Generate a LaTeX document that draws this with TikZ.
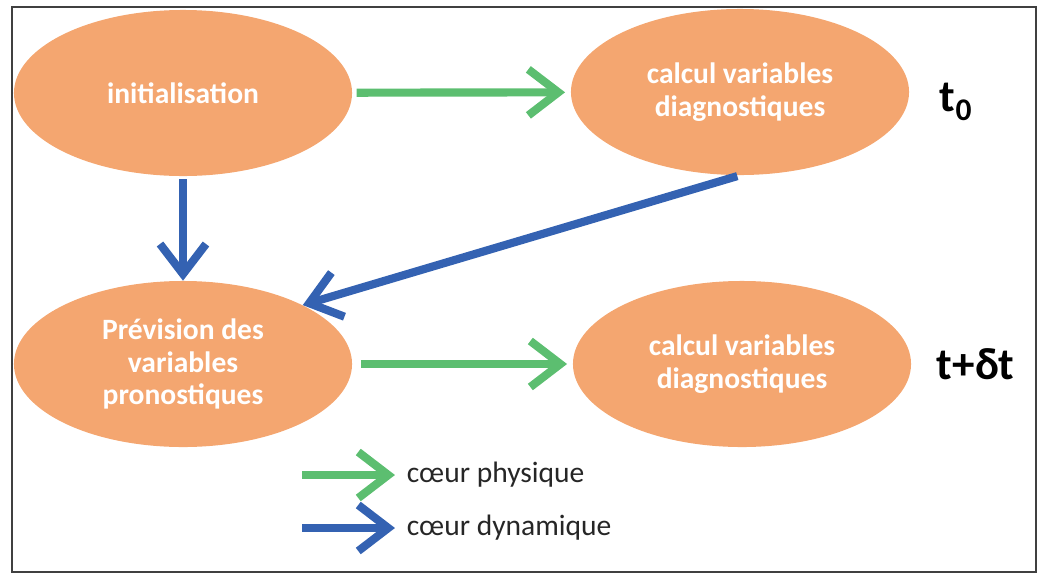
\documentclass[tikz,border=0pt]{standalone}
\usepackage{fontspec}
\setmainfont{Carlito}
\usepackage{tikz}
\usetikzlibrary{shapes.geometric}
\usetikzlibrary{arrows.meta}

\definecolor{bulle}{RGB}{244,166,112}
\definecolor{vert}{RGB}{92,190,112}
\definecolor{bleu}{RGB}{52,98,178}

\tikzset{
  etape/.style={ellipse, fill=bulle, text=white, font=\fontsize{21}{23}\selectfont\bfseries,
    align=center, inner sep=0pt, minimum width=8.45cm, minimum height=4.15cm},
  physique/.style={vert, line width=5.8pt, -{Straight Barb[length=0.75cm,width=1.15cm]}},
  dynamique/.style={bleu, line width=5.8pt, -{Straight Barb[length=0.75cm,width=1.15cm]}},
  legende/.style={anchor=west, font=\fontsize{21}{23}\selectfont, text=black!85},
  temps/.style={anchor=west, font=\fontsize{32}{34}\selectfont\bfseries}
}

\begin{document}
\begin{tikzpicture}[x=0.025cm, y=-0.025cm]
	%\draw[help lines] (0,0) grid (1039,580);
	\useasboundingbox (0,0) rectangle (1039,580);
	\draw [black!75, line width=1.2pt] (12,7) rectangle (1036,572);

	\node [etape] (init) at (183,93) {initialisation};
	\node [etape] (calc0) at (740,92) {calcul variables\\diagnostiques};
	\node [etape] (prev) at (183,364) {Pr\'evision des\\variables\\pronostiques};
	\node [etape] (calc1) at (742,364) {calcul variables\\diagnostiques};

	\node [temps] (t0) at (935,102) {t\textsubscript{0}};
	\node [temps] (t1) at (932,364) {t+δt};

	\draw [physique, shorten <=3pt, shorten >=4pt] (init) -- (calc0);
	\draw [dynamique, shorten <=2pt] (init) -- (prev);
	\draw [dynamique, shorten <=2pt] (calc0.south) -- (prev.north east);
	\draw [physique, shorten <=6pt, shorten >=4pt] (prev) -- (calc1);

	% legende
	\node [legende] (lphys) at (402,475) {cœur physique};
	\node [legende] (ldyn) at (402,528) {cœur dynamique};
	\coordinate (a1) at (302,475);
	\coordinate (a2) at (302,528);
	\draw [physique, shorten >=5pt] (a1) -- (lphys.west);
	\draw [dynamique, shorten >=5pt] (a2) -- (ldyn.west);
\end{tikzpicture}
\end{document}
